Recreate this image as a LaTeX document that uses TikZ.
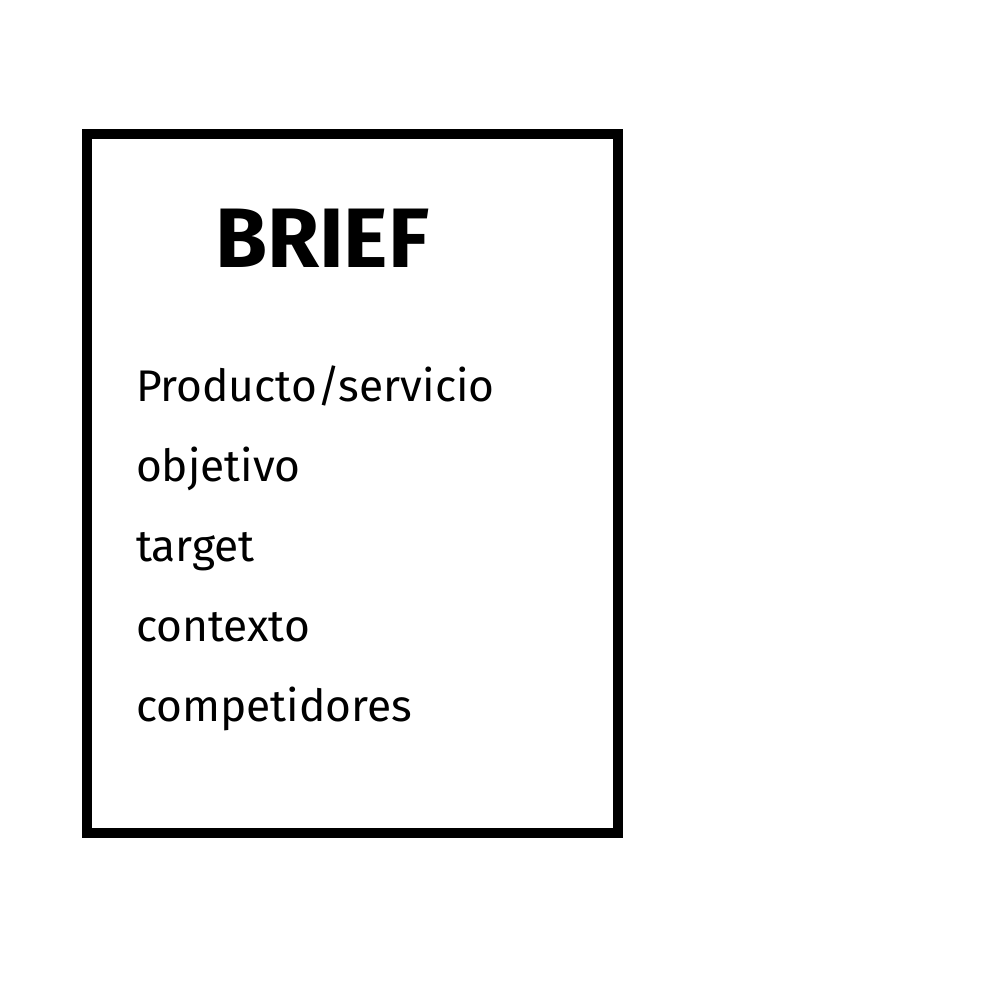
\documentclass[tikz,border=0pt]{standalone}
\usepackage{fontspec}
\setmainfont{Fira Sans}
\usepackage{tikz}

\begin{document}
\begin{tikzpicture}[line width = 2.85pt,
                    title/.style = {anchor = base west, inner sep = 0pt, font = \fontsize{24}{28}\selectfont\bfseries},
                    item/.style = {anchor = base west, inner sep = 0pt, font = \fontsize{12.6}{15}\selectfont}]
      \useasboundingbox (0, 0) rectangle (10, 10);
      \draw (0.87, 1.67) rectangle (6.18, 8.66);
      \node [title] (brief) at (2.10, 7.32){BRIEF};
      \node [item] (i1) at (1.31, 5.98){Producto/servicio};
      \node [item] (i2) at (1.31, 5.18){objetivo};
      \node [item] (i3) at (1.31, 4.38){target};
      \node [item] (i4) at (1.31, 3.58){contexto};
      \node [item] (i5) at (1.31, 2.78){competidores};
    \end{tikzpicture}
\end{document}
